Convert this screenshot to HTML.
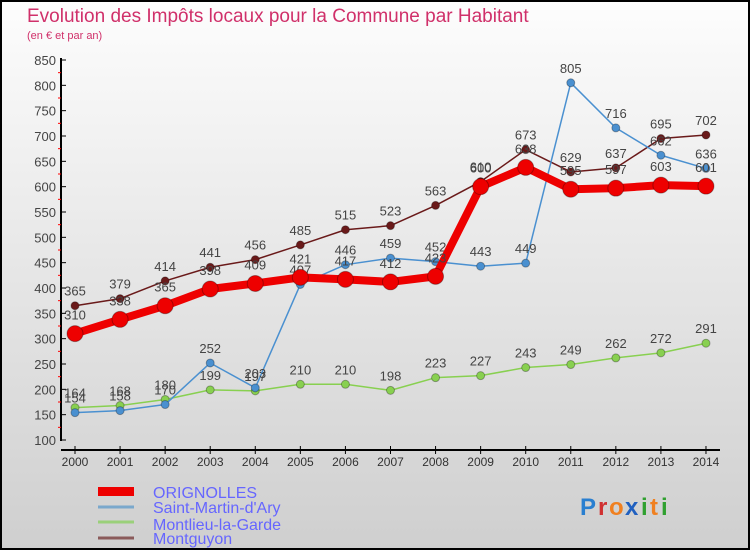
<!DOCTYPE html>
<html><head><meta charset="utf-8"><style>
body{margin:0;width:750px;height:550px;overflow:hidden}
svg{display:block;font-family:"Liberation Sans",sans-serif}
</style></head><body>
<svg id="c" width="750" height="550">
<defs><linearGradient id="bg" x1="0" y1="0" x2="0" y2="1"><stop offset="0" stop-color="#fdfdfd"/><stop offset="1" stop-color="#cfcfcf"/></linearGradient></defs>
<rect x="1" y="1" width="748" height="548" fill="url(#bg)" stroke="#000" stroke-width="2"/>
<text x="27" y="22" font-size="19" fill="#d0306a">Evolution des Impôts locaux pour la Commune par Habitant</text>
<text x="27" y="39" font-size="11" fill="#d0306a">(en € et par an)</text>
<g id="axes"></g><g id="series"></g>
<g>
<rect x="98" y="487" width="36" height="9" fill="#ee0000"/>
<line x1="98" x2="134" y1="507" y2="507" stroke="#7aa8cc" stroke-width="3"/>
<line x1="98" x2="134" y1="522" y2="522" stroke="#9ad07a" stroke-width="3"/>
<line x1="98" x2="134" y1="538" y2="538" stroke="#8a5a5a" stroke-width="3"/>
<g font-size="16" fill="#6666ff">
<text x="153" y="498">ORIGNOLLES</text>
<text x="153" y="513">Saint-Martin-d'Ary</text>
<text x="153" y="530">Montlieu-la-Garde</text>
<text x="153" y="544">Montguyon</text>
</g></g>
<g font-size="24" font-weight="bold">
<text x="580" y="515" fill="#2a7fd0">P</text><text x="598" y="515" fill="#d03030">r</text><text x="609" y="515" fill="#f08020">o</text><text x="625" y="515" fill="#2060c0">x</text><text x="641" y="515" fill="#30a030">i</text><text x="650" y="515" fill="#f08020">t</text><text x="661" y="515" fill="#30a030">i</text>
</g>
</svg>
<script>
const years=[2000,2001,2002,2003,2004,2005,2006,2007,2008,2009,2010,2011,2012,2013,2014];
const yTicks=[100,150,200,250,300,350,400,450,500,550,600,650,700,750,800,850];
const orignolles=[310,338,365,398,409,421,417,412,423,600,638,595,597,603,601];
const saintMartin=[154,158,170,252,203,407,446,459,452,443,449,805,716,662,636];
const montlieu=[164,168,180,199,197,210,210,198,223,227,243,249,262,272,291];
const montguyon=[365,379,414,441,456,485,515,523,563,610,673,629,637,695,702];
const NS="http://www.w3.org/2000/svg";
const X=i=>75+i*45.07, Y=v=>440-(v-100)*380/750;
function mk(t,a,p){const e=document.createElementNS(NS,t);for(const k in a)e.setAttribute(k,a[k]);p.appendChild(e);return e;}
const ax=document.getElementById('axes'), sg=document.getElementById('series');
const yl=mk('line',{x1:61,x2:61,y1:58,y2:441,stroke:'#000','stroke-width':2},ax);


const xl=mk('line',{x1:61,x2:720,y1:450,y2:450,stroke:'#000','stroke-width':2},ax);


yTicks.forEach(v=>{
 mk('line',{x1:61,x2:66,y1:Y(v),y2:Y(v),stroke:'#000'},ax);
 if(v<850)mk('line',{x1:58,x2:61,y1:Y(v+25),y2:Y(v+25),stroke:'#f00'},ax);
 const t=mk('text',{x:56,y:Y(v)+5,'text-anchor':'end','font-size':13,fill:'#444'},ax);
 t.textContent=v;
 
 
});
years.forEach((yr,i)=>{
 mk('line',{x1:X(i),x2:X(i),y1:446,y2:454,stroke:'#000'},ax);
 const t=mk('text',{x:X(i),y:466,'text-anchor':'middle','font-size':12,fill:'#333'},ax);
 t.textContent=yr;
 
 
});
function series(d,name,col,w,r,order){
 const g=mk('g',{},sg);
 
 
 mk('polyline',{points:d.map((v,i)=>X(i)+','+Y(v)).join(' '),fill:'none',stroke:col,'stroke-width':w,'stroke-linejoin':'round'},g);
 d.forEach((v,i)=>{
  const c=mk('circle',{cx:X(i),cy:Y(v),r:r,fill:col,stroke:'rgba(0,0,0,0.3)'},g);
  
  
  const t=mk('text',{x:X(i),y:Y(v)-r-6,'text-anchor':'middle','font-size':13,fill:'#444'},g);
  t.textContent=v;
  
  
 });
}
series(montguyon,'montguyon','#6a1a1a',1.5,4);
series(montlieu,'montlieu','#88d050',1.5,4);
series(saintMartin,'saint-martin','#4a90d0',1.5,4);
series(orignolles,'orignolles','#ee0000',8,8);
</script>
</body></html>
